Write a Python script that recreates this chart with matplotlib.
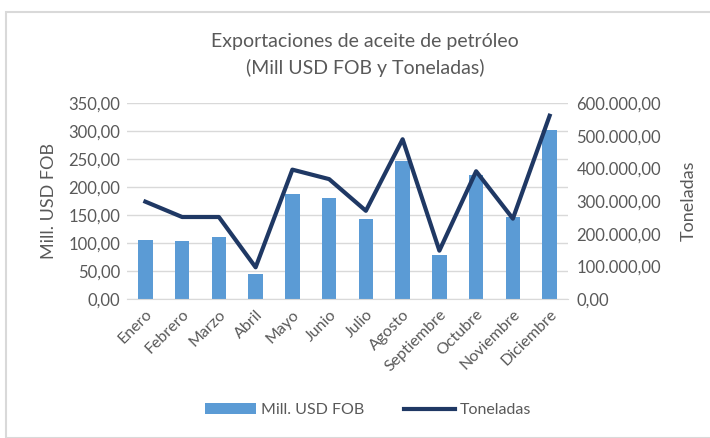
import numpy as np
import matplotlib.pyplot as plt
from matplotlib.patches import Rectangle
from matplotlib.ticker import FuncFormatter

# data
meses = ["Enero", "Febrero", "Marzo", "Abril", "Mayo", "Junio", "Julio",
         "Agosto", "Septiembre", "Octubre", "Noviembre", "Diciembre"]
usd_fob = [106, 103, 110, 44, 188, 181, 143, 246, 79, 222, 147, 301]
toneladas = [298000, 251000, 251000, 97000, 396000, 367000, 270000,
             489000, 148000, 391000, 246000, 561000]

BAR_COLOR = "#5B9BD5"
LINE_COLOR = "#1F3864"
TEXT_COLOR = "#595959"
GRID_COLOR = "#D9D9D9"

plt.rcParams["font.family"] = ["Lato", "DejaVu Sans"]


def fmt_es(v, pos=None):
    s = "{:,.2f}".format(v)
    return s.replace(",", "X").replace(".", ",").replace("X", ".")


fig = plt.figure(figsize=(7.10, 4.38), dpi=100)
fig.patches.append(Rectangle((6 / 710, 0), 1.2, (438 - 12) / 438, transform=fig.transFigure,
                             fill=False, edgecolor="#D9D9D9", linewidth=1.5))

ax = fig.add_axes([127 / 710, 1 - 299 / 438, (568 - 127) / 710, (299 - 103) / 438])
x = np.arange(len(meses))
ax.bar(x, usd_fob, width=0.4, color=BAR_COLOR, label="Mill. USD FOB", zorder=2)
ax.set_xlim(-0.5, len(meses) - 0.5)
ax.set_ylim(0, 350)
ax.set_yticks(np.arange(0, 351, 50))
ax.yaxis.set_major_formatter(FuncFormatter(fmt_es))
ax.grid(axis="y", color=GRID_COLOR, linewidth=1, zorder=0)
ax.set_axisbelow(True)
for s in ["top", "right", "left"]:
    ax.spines[s].set_visible(False)
ax.spines["bottom"].set_color(GRID_COLOR)
ax.tick_params(axis="both", length=0, colors=TEXT_COLOR, labelsize=12)
ax.set_xticks(x)
ax.set_xticklabels(meses, rotation=45, ha="right", rotation_mode="anchor")
ax.tick_params(axis="x", pad=6, labelsize=11.5)
ax.tick_params(axis="y", pad=5)
ax.set_ylabel("Mill. USD FOB", color=TEXT_COLOR, fontsize=13, labelpad=8)

ax2 = ax.twinx()
ax2.plot(x, toneladas, color=LINE_COLOR, linewidth=3, label="Toneladas", zorder=3)
ax2.set_ylim(0, 600000)
ax2.set_yticks(np.arange(0, 600001, 100000))
ax2.yaxis.set_major_formatter(FuncFormatter(fmt_es))
for s in ["top", "right", "left", "bottom"]:
    ax2.spines[s].set_visible(False)
ax2.tick_params(axis="y", length=0, colors=TEXT_COLOR, labelsize=12, pad=6)
ax2.set_ylabel("Toneladas", color=TEXT_COLOR, fontsize=13, labelpad=14)

fig.text(365 / 710, 1 - 42 / 438, "Exportaciones de aceite de petróleo", ha="center",
         va="center", fontsize=14, color=TEXT_COLOR)
fig.text(365 / 710, 1 - 68 / 438, "(Mill USD FOB y Toneladas)", ha="center",
         va="center", fontsize=14, color=TEXT_COLOR)

h1, l1 = ax.get_legend_handles_labels()
h2, l2 = ax2.get_legend_handles_labels()
fig.legend(h1 + h2, l1 + l2, loc="center", bbox_to_anchor=(368 / 710, 1 - 410 / 438),
           ncol=2, frameon=False, fontsize=11.5, labelcolor=TEXT_COLOR,
           handlelength=3.2, handletextpad=0.3, columnspacing=2.5)

fig.savefig("out.png", dpi=100, facecolor="white")
